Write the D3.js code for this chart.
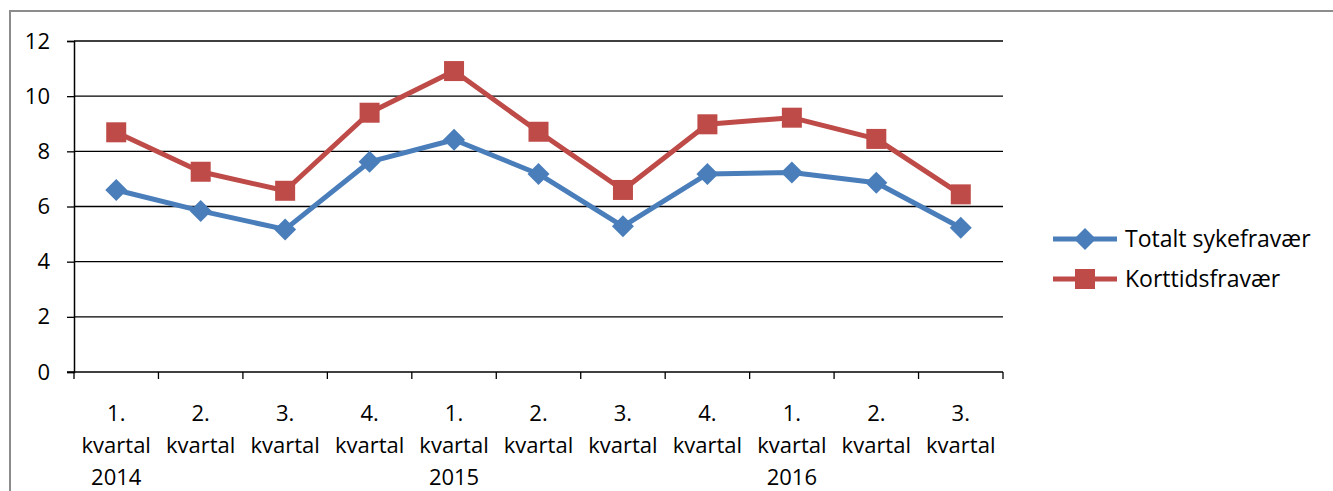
<!DOCTYPE html>
<html><head><meta charset="utf-8">
<script src="https://cdn.jsdelivr.net/npm/d3@7"></script>
<style>body{margin:0;background:#fff}svg{display:block}</style>
</head><body>
<svg id="c" width="1333" height="491"></svg>
<script>
const quarters = ["1.", "2.", "3.", "4.", "1.", "2.", "3.", "4.", "1.", "2.", "3."];
const years = ["2014", "", "", "", "2015", "", "", "", "2016", "", ""];
const totalt = [6.6, 5.84, 5.17, 7.62, 8.42, 7.18, 5.28, 7.18, 7.23, 6.86, 5.23];
const korttid = [8.69, 7.26, 6.57, 9.4, 10.91, 8.71, 6.6, 8.98, 9.22, 8.45, 6.44];
const yTicks = [0, 2, 4, 6, 8, 10, 12];
const seriesNames = ["Totalt sykefravær", "Korttidsfravær"];

const svg = d3.select("#c");
const font = "'Open Sans', Lato, sans-serif";
const fs = 22;
const blue = "#4A7EBB", red = "#BE4B48";

svg.append("rect").attr("x", 10).attr("y", 11).attr("width", 1340).attr("height", 500)
  .attr("fill", "none").attr("stroke", "#8c8c8c").attr("stroke-width", 2);

const L = 74, R = 1003, T = 41, B = 372;
const x = d3.scaleBand().domain(d3.range(quarters.length)).range([L, R]);
const y = d3.scaleLinear().domain([0, 12]).range([B, T]);

// gridlines
svg.append("g").selectAll("line").data(yTicks.filter(d => d > 0)).join("line")
  .attr("x1", L).attr("x2", R).attr("y1", d => y(d)).attr("y2", d => y(d))
  .attr("stroke", "#000").attr("stroke-width", 1.3);

// y axis
const yAxis = svg.append("g").attr("transform", `translate(${L},0)`)
  .call(d3.axisLeft(y).tickValues(yTicks).tickSize(7).tickPadding(17));
yAxis.select(".domain").attr("stroke", "#000").attr("stroke-width", 1.5);
yAxis.selectAll(".tick line").attr("stroke", "#000").attr("stroke-width", 1.3);
yAxis.selectAll("text").attr("font-family", font).attr("font-size", fs).attr("fill", "#000");

// x axis
const xAxis = svg.append("g").attr("transform", `translate(0,${B})`);
xAxis.append("line").attr("x1", L - 7).attr("x2", R).attr("stroke", "#000").attr("stroke-width", 1.5);
const tickPos = d3.range(quarters.length + 1).map(i => i < quarters.length ? x(i) : x(quarters.length - 1) + x.bandwidth());
xAxis.selectAll(".xt").data(tickPos).join("line").attr("class", "xt")
  .attr("x1", d => d).attr("x2", d => d).attr("y1", 0).attr("y2", 7)
  .attr("stroke", "#000").attr("stroke-width", 1.3);

const labels = svg.append("g").attr("font-family", font).attr("font-size", fs).attr("fill", "#000").attr("text-anchor", "middle");
quarters.forEach((q, i) => {
  const cx = x(i) + x.bandwidth() / 2;
  labels.append("text").attr("x", cx).attr("y", 421).text(q);
  labels.append("text").attr("x", cx).attr("y", 453).text("kvartal");
  if (years[i]) labels.append("text").attr("x", cx).attr("y", 485).text(years[i]);
});

const line = d3.line().x((d, i) => x(i) + x.bandwidth() / 2).y(d => y(d));
function drawSeries(data, color, shape) {
  svg.append("path").datum(data).attr("d", line).attr("fill", "none")
    .attr("stroke", color).attr("stroke-width", 5).attr("stroke-linejoin", "round");
  const g = svg.append("g");
  data.forEach((d, i) => {
    const cx = x(i) + x.bandwidth() / 2, cy = y(d);
    if (shape === "diamond") {
      g.append("path").attr("d", `M${cx},${cy - 11}L${cx + 11},${cy}L${cx},${cy + 11}L${cx - 11},${cy}Z`).attr("fill", color);
    } else {
      g.append("rect").attr("x", cx - 10).attr("y", cy - 10).attr("width", 20).attr("height", 20).attr("fill", color);
    }
  });
}
drawSeries(totalt, blue, "diamond");
drawSeries(korttid, red, "square");

// legend
const leg = svg.append("g");
[[blue, "diamond", 239], [red, "square", 279]].forEach(([c, s, ly], i) => {
  leg.append("line").attr("x1", 1053).attr("x2", 1117).attr("y1", ly).attr("y2", ly).attr("stroke", c).attr("stroke-width", 5);
  const cx = 1085;
  if (s === "diamond") leg.append("path").attr("d", `M${cx},${ly - 11}L${cx + 11},${ly}L${cx},${ly + 11}L${cx - 11},${ly}Z`).attr("fill", c);
  else leg.append("rect").attr("x", cx - 10).attr("y", ly - 10).attr("width", 20).attr("height", 20).attr("fill", c);
  leg.append("text").attr("x", 1125).attr("y", ly + 8).attr("font-family", font).attr("font-size", 23).attr("fill", "#000").text(seriesNames[i]);
});
</script>
</body></html>
